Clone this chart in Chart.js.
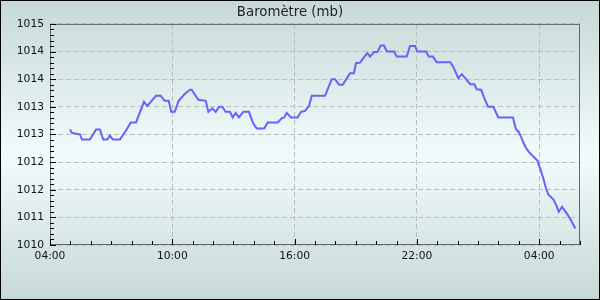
<!DOCTYPE html>
<html>
<head>
<meta charset="utf-8">
<script src="https://cdn.jsdelivr.net/npm/chart.js@4"></script>
<style>
  html, body { margin: 0; padding: 0; }
  #wrap {
    width: 600px; height: 300px; box-sizing: border-box;
    border: 1px solid #000;
    background: linear-gradient(to bottom, #c6d9d7 0%, #f2fbfb 52%, #c6d9d7 100%);
    position: relative;
  }
  #chart { position: absolute; left: -1px; top: -1px; }
</style>
</head>
<body>
<div id="wrap"><canvas id="chart" width="600" height="300"></canvas></div>
<script>
// hours since 04:00
const hours = [
  0.98, 1.08, 1.47, 1.57, 1.96, 2.26, 2.45, 2.61, 2.81, 2.94, 3.08, 3.43, 3.76, 3.96, 4.22, 4.42,
  4.61, 4.77, 5.20, 5.43, 5.63, 5.82, 5.95, 6.12, 6.31, 6.62, 6.87, 6.95, 7.28, 7.64, 7.77, 7.96,
  8.13, 8.29, 8.45, 8.62, 8.83, 8.96, 9.11, 9.27, 9.48, 9.76, 9.97, 10.14, 10.51, 10.68, 11.17, 11.37,
  11.49, 11.61, 11.82, 12.15, 12.31, 12.51, 12.71, 12.84, 13.49, 13.61, 13.82, 13.98, 14.19, 14.36, 14.56, 14.72,
  14.91, 15.01, 15.21, 15.41, 15.57, 15.70, 15.90, 16.06, 16.22, 16.39, 16.52, 16.88, 17.01, 17.50, 17.66, 17.91,
  18.02, 18.45, 18.58, 18.78, 18.97, 19.64, 19.79, 20.03, 20.20, 20.41, 20.61, 20.82, 20.93, 21.15, 21.34, 21.50,
  21.75, 21.99, 22.71, 22.86, 22.98, 23.09, 23.22, 23.35, 23.52, 23.71, 23.91, 24.04, 24.20, 24.33, 24.45, 24.69,
  24.83, 24.96, 25.12, 25.35, 25.55, 25.77
];
const pressure = [
  1012.70, 1012.63, 1012.60, 1012.50, 1012.50, 1012.70, 1012.70, 1012.50, 1012.50, 1012.58, 1012.50, 1012.50, 1012.70, 1012.84, 1012.84, 1013.05,
  1013.25, 1013.17, 1013.37, 1013.37, 1013.27, 1013.27, 1013.05, 1013.05, 1013.27, 1013.41, 1013.49, 1013.49, 1013.29, 1013.27, 1013.05, 1013.12,
  1013.05, 1013.15, 1013.15, 1013.05, 1013.05, 1012.94, 1013.03, 1012.94, 1013.05, 1013.05, 1012.82, 1012.72, 1012.72, 1012.84, 1012.84, 1012.92,
  1012.94, 1013.03, 1012.94, 1012.94, 1013.05, 1013.07, 1013.17, 1013.37, 1013.37, 1013.49, 1013.70, 1013.70, 1013.59, 1013.59, 1013.72, 1013.82,
  1013.82, 1014.02, 1014.03, 1014.14, 1014.22, 1014.15, 1014.24, 1014.24, 1014.37, 1014.37, 1014.25, 1014.25, 1014.15, 1014.15, 1014.36, 1014.36,
  1014.25, 1014.25, 1014.15, 1014.15, 1014.04, 1014.04, 1013.94, 1013.72, 1013.80, 1013.70, 1013.60, 1013.60, 1013.50, 1013.49, 1013.29, 1013.15,
  1013.15, 1012.94, 1012.94, 1012.70, 1012.66, 1012.57, 1012.44, 1012.33, 1012.24, 1012.16, 1012.08, 1011.93, 1011.73, 1011.53, 1011.40, 1011.31,
  1011.20, 1011.06, 1011.16, 1011.03, 1010.90, 1010.73
];

const xTickValues = [0, 6, 12, 18, 24];
const xTickLabels = ['04:00', '10:00', '16:00', '22:00', '04:00'];
const xMax = 26;

const yMin = 1010.4;
const yStep = 0.55;
const yTickLabels = ['1010', '1011', '1012', '1012', '1013', '1013', '1014', '1014', '1015'];
const yMax = yMin + yStep * (yTickLabels.length - 1);

const FONT = 'DejaVu Sans';

// frame + inner tick marks (major and minor)
const frameTicks = {
  id: 'frameTicks',
  beforeDatasetsDraw(chart) {
    const { ctx, chartArea: a, scales: { x, y } } = chart;
    ctx.save();
    ctx.strokeStyle = '#666';
    ctx.lineWidth = 1;
    ctx.strokeRect(a.left + 0.5, a.top + 0.5, a.right - a.left - 1, a.bottom - a.top - 1);
    ctx.strokeStyle = '#000';
    ctx.beginPath();
    for (let h = 0; h <= xMax; h++) {
      const px = Math.round(x.getPixelForValue(h)) + 0.5;
      const len = h % 6 === 0 ? 6 : 4;
      ctx.moveTo(px, a.bottom);
      ctx.lineTo(px, a.bottom - len);
    }
    for (let i = 0; i <= (yTickLabels.length - 1) * 5; i++) {
      const py = Math.round(y.getPixelForValue(yMin + i * yStep / 5)) + 0.5;
      const len = i % 5 === 0 ? 6 : 4;
      ctx.moveTo(a.left, py);
      ctx.lineTo(a.left + len, py);
    }
    ctx.stroke();
    ctx.restore();
  }
};

new Chart(document.getElementById('chart'), {
  type: 'line',
  data: {
    datasets: [{
      data: hours.map((h, i) => ({ x: h, y: pressure[i] })),
      borderColor: 'rgb(100,100,250)',
      borderWidth: 2,
      pointRadius: 0,
      tension: 0,
      fill: false
    }]
  },
  options: {
    responsive: false,
    animation: false,
    layout: { padding: { left: 0, right: 20, top: 0, bottom: 0 } },
    plugins: {
      legend: { display: false },
      tooltip: { enabled: false },
      title: {
        display: true,
        text: 'Baromètre (mb)',
        color: '#222',
        font: { family: FONT, size: 13.3, weight: 'normal' },
        padding: { top: 5, bottom: 3 }
      }
    },
    scales: {
      x: {
        type: 'linear',
        min: 0,
        max: xMax,
        afterBuildTicks: s => { s.ticks = xTickValues.map(v => ({ value: v })); },
        afterFit: s => { s.height = 55; },
        ticks: {
          callback: (v, i) => xTickLabels[i],
          color: '#111',
          font: { family: FONT, size: 10.7 },
          padding: 5,
          maxRotation: 0,
          autoSkip: false
        },
        grid: { color: '#bcbcbc', lineWidth: 1, drawTicks: false },
        border: { display: false, dash: [5, 3] }
      },
      y: {
        min: yMin,
        max: yMax,
        afterBuildTicks: s => { s.ticks = yTickLabels.map((_, i) => ({ value: yMin + i * yStep })); },
        afterFit: s => { s.width = 50; },
        ticks: {
          callback: (v, i) => yTickLabels[i],
          color: '#111',
          font: { family: FONT, size: 10.7 },
          padding: 6
        },
        grid: { color: '#bcbcbc', lineWidth: 1, drawTicks: false },
        border: { display: false, dash: [5, 3] }
      }
    }
  },
  plugins: [frameTicks]
});
</script>
</body>
</html>
